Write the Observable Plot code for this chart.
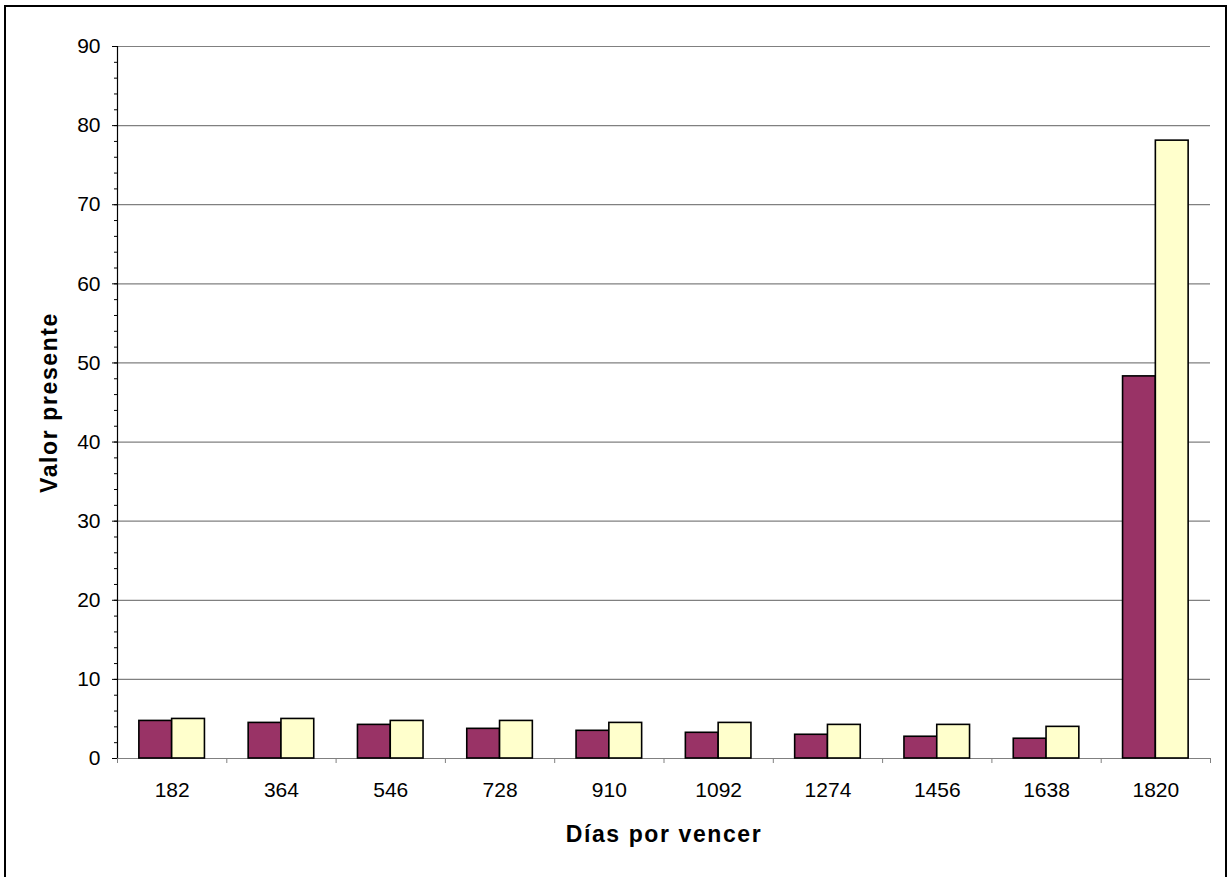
<!DOCTYPE html>
<html><head><meta charset="utf-8">
<script src="https://cdn.jsdelivr.net/npm/d3@7"></script>
<script src="https://cdn.jsdelivr.net/npm/@observablehq/plot@0.6"></script>
<style>
html,body{margin:0;padding:0;background:#fff;}
#wrap{position:relative;width:1228px;height:877px;overflow:hidden;}
#chart{position:absolute;left:0;top:0;}
#border{position:absolute;left:4px;top:5px;width:1223px;height:900px;border:2px solid #000;box-sizing:border-box;pointer-events:none;}
g[aria-label="text"] text{letter-spacing:1.6px;}
</style></head><body>
<div id="wrap"><div id="chart"></div><div id="border"></div></div>
<script>
// Categories: days to maturity
const days = ["182","364","546","728","910","1092","1274","1456","1638","1820"];
// Series values (present value)
const serieMorada = [4.75, 4.5, 4.25, 3.75, 3.5, 3.25, 3.0, 2.75, 2.5, 48.3];
const serieAmarilla = [5.0, 5.0, 4.75, 4.75, 4.5, 4.5, 4.25, 4.25, 4.0, 78.1];
// Y tick labels
const yTicks = [0, 10, 20, 30, 40, 50, 60, 70, 80, 90];
const yMinorTicks = d3.range(0, 91, 2);

const rows = days.map((d, i) => ({pos: i + 1, day: d, a: serieMorada[i], b: serieAmarilla[i]}));
const positions = rows.map(r => r.pos);
const boundaries = d3.range(0, days.length + 1).map(k => k + 0.5);
const half = 0.3;

const chart = Plot.plot({
  width: 1228,
  height: 877,
  marginLeft: 117,
  marginRight: 18,
  marginTop: 46,
  marginBottom: 119,
  style: {fontFamily: "'Liberation Sans', Arial, sans-serif", fontSize: "21px", color: "#000", background: "transparent", overflow: "visible"},
  x: {domain: [0.5, days.length + 0.5]},
  y: {domain: [0, 90]},
  marks: [
    Plot.ruleY(yTicks, {stroke: "#808080", strokeWidth: 1.2}),
    Plot.rect(rows, {x1: d => d.pos - half, x2: d => d.pos, y1: 0, y2: "a", fill: "#993366", stroke: "#000", strokeWidth: 1.6}),
    Plot.rect(rows, {x1: d => d.pos, x2: d => d.pos + half, y1: 0, y2: "b", fill: "#FFFFCC", stroke: "#000", strokeWidth: 1.6}),
    Plot.ruleX([0.5], {stroke: "#000", strokeWidth: 1.2}),
    Plot.axisY({ticks: yTicks, tickSize: 5, tickPadding: 12, label: null, fontSize: 21}),
    Plot.axisY({ticks: yMinorTicks, tickSize: 3, tickFormat: () => "", label: null}),
    Plot.axisX({ticks: boundaries, tickSize: 5, tickFormat: () => "", label: null, stroke: "#808080"}),
    Plot.axisX({ticks: positions, tickSize: 0, tickPadding: 24, tickFormat: d => days[d - 1], label: null, fontSize: 21}),
    Plot.text(["Valor presente"], {frameAnchor: "left", textAnchor: "middle", lineAnchor: "middle", rotate: -90, dx: -68, fontSize: 23, fontWeight: "bold", fill: "#000"}),
    Plot.text(["Días por vencer"], {frameAnchor: "bottom", textAnchor: "middle", lineAnchor: "middle", dy: 76, fontSize: 23, fontWeight: "bold", fill: "#000"})
  ]
});
document.getElementById("chart").appendChild(chart);
</script>
</body></html>
